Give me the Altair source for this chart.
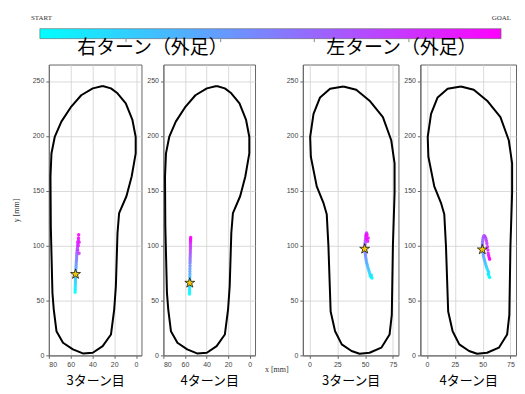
import altair as alt
import pandas as pd

START_COLOR = "#00ffff"
GOAL_COLOR = "#ff00ff"
STAR_FILL = "#f2c80f"
JP = "Noto Sans CJK JP"

# ---- foot outlines (mm) ----
RIGHT_FOOT_X = [30.6, 39.7, 50.3, 59.4, 68.5, 74.5, 77.6, 78.5, 78.2, 76.7, 75.5, 73.0, 67.0, 57.9,
                48.8, 39.7, 30.6, 23.0, 20.0, 18.5, 17.0, 15.5, 8.8, 4.0, 0.3, 0.3, 3.3, 9.4, 17.0, 23.0, 30.6]
RIGHT_FOOT_Y = [245.5, 243.3, 237.0, 226.7, 213.0, 199.4, 184.0, 163.0, 117.6, 57.0, 42.0, 22.0, 11.5, 5.5,
                1.8, 2.4, 8.5, 19.0, 42.0, 63.0, 111.5, 129.7, 145.0, 163.0, 184.0, 199.0, 214.5, 229.7, 238.8, 243.3, 245.5]
LEFT_FOOT_X = [30.4, 18.5, 9.5, 3.6, 0.6, 1.2, 6.5, 12.5, 15.5, 17.0, 19.0, 23.0, 29.0, 37.8, 45.0, 54.0,
               64.6, 72.0, 74.0, 75.0, 76.5, 76.5, 73.5, 66.0, 54.0, 42.0, 30.4]
LEFT_FOOT_Y = [245.0, 243.0, 235.0, 220.0, 199.0, 181.0, 154.0, 139.0, 128.5, 100.0, 40.0, 22.0, 10.0, 4.0, 1.5, 2.4,
               7.0, 19.0, 37.0, 100.0, 148.0, 175.0, 196.0, 217.0, 232.0, 242.0, 245.0]

# ---- trajectories (START -> GOAL) ----
R3_X = [55.9, 55.8, 55.8, 55.7, 55.6, 55.6, 55.5, 55.5, 55.4, 55.3, 55.2, 55.0, 54.9, 54.8, 54.6, 54.5,
        54.4, 54.3, 54.1, 53.9, 53.7, 53.4, 53.5, 52.3, 53.6, 52.9, 53.0, 52.2, 52.8, 52.6]
R3_Y = [57.5, 59.5, 61.5, 63.5, 65.5, 67.5, 69.5, 71.5, 74.0, 76.5, 79.0, 81.0, 83.0, 85.0, 87.0, 89.0,
        91.0, 93.0, 95.0, 97.0, 99.0, 101.0, 96.0, 93.0, 103.0, 105.0, 100.0, 103.0, 107.0, 110.0]
R3_STAR = (55.5, 74.0)

R4_X = [55.8, 55.7, 55.7, 55.6, 55.6, 55.5, 55.5, 55.5, 55.4, 55.4, 55.4, 55.3, 55.3, 55.2, 55.2, 55.1,
        55.1, 55.0, 55.0, 54.9, 54.9, 54.9, 54.8, 54.8, 54.8, 54.7]
R4_Y = [56.0, 58.0, 60.0, 62.0, 64.0, 66.5, 69.0, 71.5, 74.0, 76.5, 79.0, 81.5, 84.0, 86.0, 88.0, 90.0,
        92.0, 94.0, 96.0, 98.0, 100.0, 102.0, 103.5, 105.0, 106.0, 107.5]
R4_STAR = (55.5, 66.0)

L3_X = [56.2, 55.4, 54.6, 55.6, 54.2, 53.6, 53.0, 52.4, 51.9, 51.4, 51.0, 50.7, 50.4, 50.2, 50.0, 49.9,
        49.8, 49.8, 50.0, 50.2, 50.4, 50.7, 50.9, 51.3, 51.8, 52.8, 52.4, 51.5, 51.0]
L3_Y = [70.5, 71.5, 72.5, 73.0, 74.5, 76.5, 78.5, 80.5, 82.5, 84.5, 86.5, 88.5, 90.5, 92.5, 94.5, 96.5,
        98.5, 100.5, 102.5, 104.5, 106.5, 108.5, 110.5, 111.5, 110.0, 107.0, 104.0, 106.0, 109.0]
L3_STAR = (49.6, 97.0)

L4_X = [56.3, 55.6, 55.0, 55.4, 54.8, 54.0, 53.3, 52.7, 52.1, 51.6, 51.1, 50.7, 50.4, 50.1, 49.9, 49.8,
        49.8, 49.9, 50.1, 50.4, 50.9, 51.5, 52.2, 52.9, 53.4, 53.8, 54.3, 54.7, 55.0, 55.4, 55.9, 56.3]
L4_Y = [71.0, 72.5, 74.0, 75.5, 77.0, 79.0, 81.0, 83.0, 85.0, 87.0, 89.0, 91.0, 93.0, 95.0, 97.0, 99.0,
        101.0, 103.0, 105.0, 107.0, 108.5, 109.0, 108.0, 106.5, 104.5, 102.0, 99.0, 96.0, 93.0, 91.0, 89.0, 87.5]
L4_STAR = (49.7, 96.4)

Y_TICKS = [0, 50, 100, 150, 200, 250]
RIGHT_X_TICKS = [0, 20, 40, 60, 80]
LEFT_X_TICKS = [0, 25, 50, 75]
COLORBAR_TICKS = [0.186, 0.391, 0.594, 0.799]
TITLE_RIGHT = "右ターン（外足）"
TITLE_LEFT = "左ターン（外足）"

STAR = ("M0,-1L0.2245,-0.309L0.951,-0.309L0.363,0.118L0.588,0.809L0,0.382"
        "L-0.588,0.809L-0.363,0.118L-0.951,-0.309L-0.2245,-0.309Z")

H = 292


def make_panel(out_x, out_y, tx, ty, star, xdom, reverse, xticks, label, w, ytitle,
               note=False, head=None, head_x=0):
    outline = pd.DataFrame({"x": out_x, "y": out_y, "k": list(range(len(out_x)))})
    n = len(tx)
    traj = pd.DataFrame({"x": tx, "y": ty, "t": [k / (n - 1) for k in range(n)]})
    sp = pd.DataFrame({"x": [star[0]], "y": [star[1]]})
    xs = alt.Scale(domain=xdom, reverse=reverse, nice=False, zero=False)
    ys = alt.Scale(domain=[0, 265], nice=False, zero=False)
    xa = alt.Axis(values=xticks, title=label, titleFont=JP, titleFontSize=13, titleFontWeight="normal",
                  titleColor="black", titlePadding=7, labelOverlap=False)
    if ytitle:
        ya = alt.Axis(values=Y_TICKS, title="y [mm]", titleFont="Liberation Serif", titleFontSize=8,
                      titleFontWeight="normal", titleColor="#333", titlePadding=12, labelOverlap=False)
    else:
        ya = alt.Axis(values=Y_TICKS, title=None, labelOverlap=False)
    X = alt.X("x:Q", scale=xs, axis=xa)
    Y = alt.Y("y:Q", scale=ys, axis=ya)
    line = alt.Chart(outline).mark_line(color="black", strokeWidth=2, strokeJoin="round").encode(
        x=X, y=Y, order="k:Q")
    pts = alt.Chart(traj).mark_circle(size=12, opacity=0.9).encode(
        x=X, y=Y,
        color=alt.Color("t:Q", scale=alt.Scale(domain=[0, 1], range=[START_COLOR, GOAL_COLOR],
                                               interpolate="rgb"), legend=None))
    st = alt.Chart(sp).mark_point(shape=STAR, filled=True, fill=STAR_FILL, stroke="black", strokeWidth=0.7,
                                  size=110, opacity=1).encode(x=X, y=Y)
    layers = [line, pts, st]
    if note:
        txt = alt.Chart(pd.DataFrame({"s": ["x [mm]"]})).mark_text(
            align="left", baseline="middle", font="Liberation Serif", fontSize=8, color="#333").encode(
            text="s:N", x=alt.value(w + 10), y=alt.value(H + 15))
        layers.append(txt)
    if head:
        ht = alt.Chart(pd.DataFrame({"s": [head]})).mark_text(
            align="center", baseline="middle", font=JP, fontSize=19, color="black").encode(
            text="s:N", x=alt.value(head_x), y=alt.value(-17))
        layers.append(ht)
    return alt.layer(*layers).properties(width=w, height=H)


p1 = make_panel(RIGHT_FOOT_X, RIGHT_FOOT_Y, R3_X, R3_Y, R3_STAR, [-5, 80], True, RIGHT_X_TICKS,
                "3ターン目", 93, True, head=TITLE_RIGHT, head_x=104)
p2 = make_panel(RIGHT_FOOT_X, RIGHT_FOOT_Y, R4_X, R4_Y, R4_STAR, [-5, 80], True, RIGHT_X_TICKS,
                "4ターン目", 92, False, note=True)
p3 = make_panel(LEFT_FOOT_X, LEFT_FOOT_Y, L3_X, L3_Y, L3_STAR, [-6, 80], False, LEFT_X_TICKS,
                "3ターン目", 96, False, head=TITLE_LEFT, head_x=99)
p4 = make_panel(LEFT_FOOT_X, LEFT_FOOT_Y, L4_X, L4_Y, L4_STAR, [-6, 80], False, LEFT_X_TICKS,
                "4ターン目", 96, False)

spacer = alt.Chart(pd.DataFrame({"a": [0]})).mark_point(opacity=0).encode(
    x=alt.value(0), y=alt.value(0)).properties(width=4, height=H, view=alt.ViewBackground(stroke="transparent"))

panels = alt.hconcat(p1, p2, spacer, p3, p4, spacing=22, bounds="flush")

# ---- colour bar ----
CB_W = 454
grad = alt.LinearGradient(gradient="linear", x1=0, x2=1, y1=0, y2=0,
                          stops=[alt.GradientStop(color=START_COLOR, offset=0),
                                 alt.GradientStop(color=GOAL_COLOR, offset=1)])
cb_scale = alt.Scale(domain=[9 / 463, 1], nice=False, zero=False)
bar = alt.Chart(pd.DataFrame({"a": [0.0], "b": [1.0]})).mark_rect(
    fill=grad, stroke="#666", strokeWidth=0.6).encode(
    x=alt.X("a:Q", scale=cb_scale, axis=alt.Axis(values=COLORBAR_TICKS, labels=False, title=None, domain=False,
                                                 grid=False, tickSize=3, tickColor="#888")),
    x2="b:Q", y=alt.value(0), y2=alt.value(10))
lab = pd.DataFrame({"s": ["START", "GOAL"], "v": [0.0, 1.0]})
start_txt = alt.Chart(lab.iloc[[0]]).mark_text(align="left", baseline="alphabetic", font="Liberation Serif",
                                               fontSize=7, color="#333", dx=-9).encode(
    text="s:N", x=alt.X("v:Q", scale=cb_scale), y=alt.value(-9))
goal_txt = alt.Chart(lab.iloc[[1]]).mark_text(align="right", baseline="alphabetic", font="Liberation Serif",
                                              fontSize=7, color="#333", dx=10).encode(
    text="s:N", x=alt.X("v:Q", scale=cb_scale), y=alt.value(-9))
colorbar = alt.layer(bar, start_txt, goal_txt).properties(
    width=CB_W, height=10, view=alt.ViewBackground(stroke="transparent"))

chart = alt.vconcat(colorbar, panels, spacing=26, bounds="flush").properties(
    padding={"left": 3, "top": 4, "right": 0, "bottom": 0}
).configure_view(stroke="#666", strokeWidth=1).configure_axis(
    labelFont="Liberation Sans", labelFontSize=7, labelColor="#444", tickColor="#666", tickSize=3,
    domainColor="#666", gridColor="#d0d0d0", gridWidth=0.8, labelPadding=2, labelOverlap=False
).configure_axisX(labelOverlap=False)

chart.save("out.html", embed_options={"renderer": "svg", "actions": False})
